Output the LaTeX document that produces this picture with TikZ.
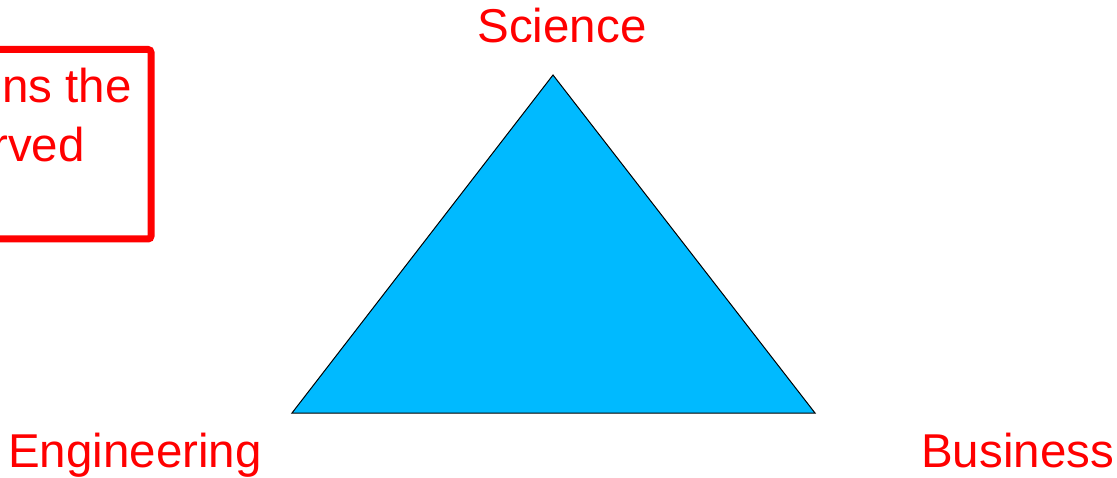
\documentclass[tikz,border=0pt]{standalone}
\usepackage{fontspec}
\setmainfont{Liberation Sans}
\usetikzlibrary{positioning}

\begin{document}
\begin{tikzpicture}[
    x=1pt, y=-1pt,
    every node/.style={font=\fontsize{47.5}{57}\selectfont, text=red, inner sep=0pt},
    corner/.style={anchor=base west},
    note/.style={draw=red, line width=7pt, rounded corners=3pt},
    tri/.style={draw=black, line width=1pt, fill={rgb,255:red,0;green,186;blue,255}, line join=miter}
]
\useasboundingbox (0,0) rectangle (1117,478);
\clip (0,0) rectangle (1117,478);
% the note box, cut off at the left edge
\draw[note] (-40,49.5) rectangle (151,239);
\node[anchor=base east] (line1) at (132,103) {ns the};
\node[anchor=base east] (line2) at (85,162) {rved};
% triangle
\coordinate (top) at (553,75);
\coordinate (left) at (292,413);
\coordinate (right) at (815,413);
\draw[tri] (top) -- (left) -- (right) -- cycle;
\node[anchor=base] (science) at (562,43) {Science};
\node[corner] (engineering) at (8,467) {Engineering};
\node[corner] (business) at (921,467) {Business};
\end{tikzpicture}
\end{document}
